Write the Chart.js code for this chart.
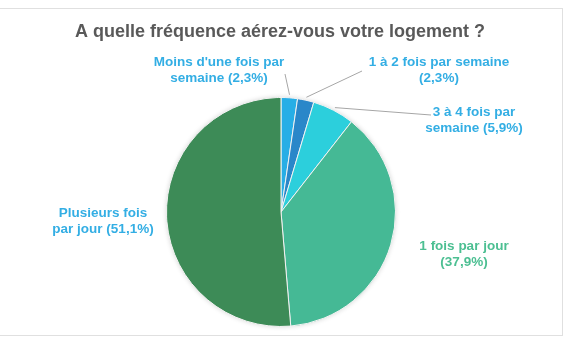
<!DOCTYPE html>
<html>
<head>
<meta charset="utf-8">
<script src="https://cdn.jsdelivr.net/npm/chart.js@4/dist/chart.umd.min.js"></script>
<style>
  html, body { margin: 0; padding: 0; background: #fff; }
  #wrap { position: relative; width: 570px; height: 340px; }
  #frame { position: absolute; left: 0; top: 8px; width: 562px; height: 326px; border: 1px solid #e0e0e0; border-left: none; box-sizing: content-box; }
</style>
</head>
<body>
<div id="wrap">
  <div id="frame"></div>
  <canvas id="pieChart" width="570" height="340"></canvas>
</div>
<script>
// Data
const categories = ["Moins d'une fois par semaine", '1 à 2 fois par semaine', '3 à 4 fois par semaine', '1 fois par jour', 'Plusieurs fois par jour'];
const percents = [2.3, 2.3, 5.9, 37.9, 51.1];
const sliceColors = ['#27aee6', '#2a87c9', '#2ccfdc', '#45b995', '#3d8b57'];
const labelColors = ['#33aee4', '#33aee4', '#33aee4', '#4cbf92', '#33aee4'];
const chartTitle = 'A quelle fréquence aérez-vous votre logement ?';

// label placement: centre x, first baseline y, words on first line, leader end point
const labelPos = [
  { x: 219, y: 66, brk: 4, lineTo: [285, 74] },
  { x: 439, y: 66, brk: 6, lineTo: [362, 71] },
  { x: 474, y: 116, brk: 5, lineTo: [431, 115] },
  { x: 464, y: 250, brk: 4, lineTo: null },
  { x: 103, y: 217, brk: 2, lineTo: null }
];

const fmt = v => v.toFixed(1).replace('.', ',') + '%';

const labelsPlugin = {
  id: 'sliceLabels',
  beforeDatasetsDraw(chart) {
    const ctx = chart.ctx;
    ctx.save();
    ctx.shadowColor = 'rgba(0,0,0,0.18)';
    ctx.shadowBlur = 5;
    const a = chart.getDatasetMeta(0).data[0];
    ctx.beginPath();
    ctx.arc(a.x, a.y, a.outerRadius, 0, Math.PI * 2);
    ctx.fillStyle = '#fff';
    ctx.fill();
    ctx.restore();
  },
  afterDraw(chart) {
    const ctx = chart.ctx;
    const arcs = chart.getDatasetMeta(0).data;
    ctx.save();
    // title
    ctx.font = 'bold 18px "Liberation Sans", Arial, sans-serif';
    ctx.textAlign = 'center';
    ctx.fillStyle = '#595959';
    ctx.fillText(chartTitle, 280, 37);

    ctx.font = 'bold 13.5px "Liberation Sans", Arial, sans-serif';
    arcs.forEach((arc, i) => {
      const p = labelPos[i];
      if (p.lineTo) {
        const mid = (arc.startAngle + arc.endAngle) / 2;
        const r = arc.outerRadius + 3;
        ctx.beginPath();
        ctx.moveTo(arc.x + Math.cos(mid) * r, arc.y + Math.sin(mid) * r);
        ctx.lineTo(p.lineTo[0], p.lineTo[1]);
        ctx.strokeStyle = '#a6a6a6';
        ctx.lineWidth = 1;
        ctx.stroke();
      }
      const words = (categories[i] + ' (' + fmt(percents[i]) + ')').split(' ');
      const lines = [words.slice(0, p.brk).join(' '), words.slice(p.brk).join(' ')];
      ctx.fillStyle = labelColors[i];
      lines.forEach((t, k) => ctx.fillText(t, p.x, p.y + k * 16));
    });
    ctx.restore();
  }
};

new Chart(document.getElementById('pieChart'), {
  type: 'pie',
  data: {
    labels: categories,
    datasets: [{
      data: percents,
      backgroundColor: sliceColors,
      borderColor: '#f2f2f2',
      borderWidth: 1
    }]
  },
  options: {
    responsive: false,
    animation: false,
    layout: { padding: { left: 166, right: 174, top: 97, bottom: 13 } },
    plugins: {
      legend: { display: false },
      tooltip: { enabled: false },
      title: { display: false }
    }
  },
  plugins: [labelsPlugin]
});
</script>
</body>
</html>
